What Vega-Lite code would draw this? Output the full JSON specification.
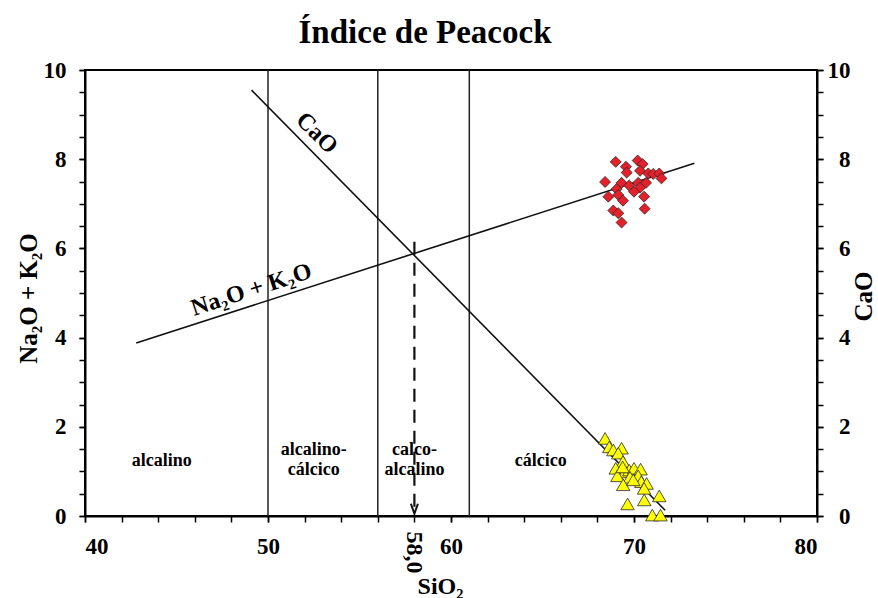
{
  "$schema": "https://vega.github.io/schema/vega-lite/v6.json",
  "width": 732,
  "height": 446,
  "autosize": {"type": "none"},
  "padding": {"left": 85, "top": 70, "right": 61, "bottom": 82},
  "background": "white",
  "title": {"text": "Índice de Peacock", "fontSize": 33, "font": "Liberation Serif", "fontWeight": "bold", "color": "black", "anchor": "middle", "dx": -26, "offset": 9},
  "datasets": {
    "alcalis": [
      {"SiO2": 69.0, "Na2O_K2O": 7.94}, {"SiO2": 70.2, "Na2O_K2O": 7.97}, {"SiO2": 70.47, "Na2O_K2O": 7.89},
      {"SiO2": 69.56, "Na2O_K2O": 7.83}, {"SiO2": 69.6, "Na2O_K2O": 7.7}, {"SiO2": 70.33, "Na2O_K2O": 7.74},
      {"SiO2": 70.78, "Na2O_K2O": 7.68}, {"SiO2": 71.05, "Na2O_K2O": 7.67}, {"SiO2": 71.38, "Na2O_K2O": 7.68},
      {"SiO2": 71.5, "Na2O_K2O": 7.57}, {"SiO2": 68.42, "Na2O_K2O": 7.49}, {"SiO2": 69.32, "Na2O_K2O": 7.47},
      {"SiO2": 69.74, "Na2O_K2O": 7.41}, {"SiO2": 70.23, "Na2O_K2O": 7.47}, {"SiO2": 70.66, "Na2O_K2O": 7.47},
      {"SiO2": 69.05, "Na2O_K2O": 7.33}, {"SiO2": 70.33, "Na2O_K2O": 7.36}, {"SiO2": 70.0, "Na2O_K2O": 7.27},
      {"SiO2": 68.6, "Na2O_K2O": 7.16}, {"SiO2": 69.14, "Na2O_K2O": 7.2}, {"SiO2": 69.4, "Na2O_K2O": 7.07},
      {"SiO2": 70.55, "Na2O_K2O": 7.16}, {"SiO2": 70.58, "Na2O_K2O": 6.89}, {"SiO2": 68.87, "Na2O_K2O": 6.85},
      {"SiO2": 69.14, "Na2O_K2O": 6.79}, {"SiO2": 69.32, "Na2O_K2O": 6.58}
    ],
    "cao": [
      {"SiO2": 68.42, "CaO": 1.74}, {"SiO2": 68.65, "CaO": 1.55}, {"SiO2": 68.87, "CaO": 1.48},
      {"SiO2": 69.32, "CaO": 1.52}, {"SiO2": 69.14, "CaO": 1.41}, {"SiO2": 69.4, "CaO": 1.22},
      {"SiO2": 69.0, "CaO": 1.07}, {"SiO2": 69.5, "CaO": 0.99}, {"SiO2": 69.09, "CaO": 0.9},
      {"SiO2": 69.74, "CaO": 1.03}, {"SiO2": 70.0, "CaO": 1.07}, {"SiO2": 70.36, "CaO": 1.05},
      {"SiO2": 69.78, "CaO": 0.87}, {"SiO2": 70.23, "CaO": 0.9}, {"SiO2": 69.41, "CaO": 0.7},
      {"SiO2": 70.4, "CaO": 0.77}, {"SiO2": 70.69, "CaO": 0.73}, {"SiO2": 70.55, "CaO": 0.62},
      {"SiO2": 70.56, "CaO": 0.36}, {"SiO2": 71.38, "CaO": 0.45}, {"SiO2": 69.65, "CaO": 0.27},
      {"SiO2": 71.0, "CaO": 0.02}, {"SiO2": 71.45, "CaO": 0.02}, {"SiO2": 69.38, "CaO": 1.1},
      {"SiO2": 69.96, "CaO": 0.81}
    ],
    "limites": [{"SiO2": 50}, {"SiO2": 56}, {"SiO2": 61}],
    "rectas": [
      {"serie": "CaO", "x1": 49.1, "y1": 9.55, "x2": 71.7, "y2": 0.13},
      {"serie": "Na2O+K2O", "x1": 42.8, "y1": 3.88, "x2": 73.3, "y2": 7.91}
    ],
    "indice": [{"SiO2": 58.0, "arriba": 6.15, "abajo": 0.15, "etiqueta": "58,0", "ypos": -0.82}],
    "campos": [
      {"SiO2": 44.2, "y": 1.23, "campo": "alcalino"},
      {"SiO2": 52.5, "y": 1.47, "campo": "alcalino-\ncálcico"},
      {"SiO2": 58.0, "y": 1.47, "campo": "calco-\nalcalino"},
      {"SiO2": 64.9, "y": 1.23, "campo": "cálcico"}
    ],
    "etiq_cao": [{"SiO2": 52.66, "y": 8.58, "texto": "CaO"}],
    "etiq_alc": [{"SiO2": 49.1, "y": 5.07, "texto": "Na₂O + K₂O"}]
  },
  "layer": [
    {
      "data": {"name": "limites"},
      "mark": {"type": "rule", "color": "#222", "strokeWidth": 1.5},
      "encoding": {
        "x": {"field": "SiO2", "type": "quantitative", "scale": {"domain": [40, 80], "nice": false, "zero": false},
          "axis": {"orient": "bottom", "values": [40, 50, 60, 70, 80], "title": "SiO₂", "titleFontSize": 24, "titleX": 355, "titleY": 70, "titleBaseline": "middle", "titleAlign": "center", "tickSize": 6, "labelPadding": 13}}
      }
    },
    {
      "data": {"name": "rectas"},
      "mark": {"type": "rule", "color": "#111", "strokeWidth": 1.6},
      "encoding": {
        "x": {"field": "x1", "type": "quantitative",
          "axis": {"orient": "bottom", "values": [40, 42, 44, 46, 48, 50, 52, 54, 56, 58, 60, 62, 64, 66, 68, 70, 72, 74, 76, 78, 80], "labels": false, "domain": false, "title": null, "tickSize": 6}},
        "x2": {"field": "x2"},
        "y": {"field": "y1", "type": "quantitative", "scale": {"domain": [0, 10], "nice": false},
          "axis": {"orient": "left", "values": [0, 2, 4, 6, 8, 10], "title": "Na₂O + K₂O", "titleX": -57, "titleY": 228, "titleAngle": 270, "titleBaseline": "middle", "titleAlign": "center", "tickSize": 6, "labelPadding": 13}},
        "y2": {"field": "y2"}
      }
    },
    {
      "data": {"name": "alcalis"},
      "mark": {"type": "point", "shape": "diamond", "filled": true, "fill": "#e5202a", "stroke": "#2a2a2a", "strokeWidth": 0.8, "size": 120, "opacity": 1},
      "encoding": {
        "x": {"field": "SiO2", "type": "quantitative", "axis": null},
        "y": {"field": "Na2O_K2O", "type": "quantitative",
          "axis": {"orient": "left", "values": [0, 0.5, 1, 1.5, 2, 2.5, 3, 3.5, 4, 4.5, 5, 5.5, 6, 6.5, 7, 7.5, 8, 8.5, 9, 9.5, 10], "labels": false, "domain": false, "title": null, "tickSize": 6}}
      }
    },
    {
      "data": {"name": "cao"},
      "mark": {"type": "point", "shape": "triangle-up", "filled": true, "fill": "#ffff00", "stroke": "#2a2a2a", "strokeWidth": 0.8, "size": 180, "opacity": 1, "clip": false},
      "encoding": {
        "x": {"field": "SiO2", "type": "quantitative", "axis": null},
        "y": {"field": "CaO", "type": "quantitative",
          "axis": {"orient": "right", "values": [0, 2, 4, 6, 8, 10], "title": "CaO", "titleX": 46, "titleY": 226, "titleAngle": 270, "titleBaseline": "middle", "titleAlign": "center", "tickSize": 6, "labelPadding": 27, "labelAlign": "right"}}
      }
    },
    {
      "data": {"name": "indice"},
      "mark": {"type": "rule", "color": "#111", "strokeWidth": 2.2, "strokeDash": [13, 8]},
      "encoding": {
        "x": {"field": "SiO2", "type": "quantitative", "axis": null},
        "y": {"field": "arriba", "type": "quantitative",
          "axis": {"orient": "right", "values": [0, 0.5, 1, 1.5, 2, 2.5, 3, 3.5, 4, 4.5, 5, 5.5, 6, 6.5, 7, 7.5, 8, 8.5, 9, 9.5, 10], "labels": false, "domain": false, "title": null, "tickSize": 6}},
        "y2": {"field": "abajo"}
      }
    },
    {
      "data": {"name": "indice"},
      "mark": {"type": "point", "shape": "M-0.7,-2L0,0L0.7,-2", "filled": false, "stroke": "#111", "strokeWidth": 2, "size": 100, "opacity": 1},
      "encoding": {
        "x": {"field": "SiO2", "type": "quantitative", "axis": null},
        "y": {"datum": 0.05, "type": "quantitative", "axis": null}
      }
    },
    {
      "data": {"name": "indice"},
      "mark": {"type": "text", "angle": 90, "font": "Liberation Serif", "fontWeight": "bold", "fontSize": 24, "color": "black", "align": "center", "baseline": "middle"},
      "encoding": {
        "x": {"field": "SiO2", "type": "quantitative", "axis": null},
        "y": {"field": "ypos", "type": "quantitative", "axis": null},
        "text": {"field": "etiqueta"}
      }
    },
    {
      "data": {"name": "campos"},
      "mark": {"type": "text", "font": "Liberation Serif", "fontWeight": "bold", "fontSize": 18, "color": "black", "align": "center", "baseline": "middle", "lineBreak": "\n", "lineHeight": 20},
      "encoding": {
        "x": {"field": "SiO2", "type": "quantitative", "axis": null},
        "y": {"field": "y", "type": "quantitative", "axis": null},
        "text": {"field": "campo"}
      }
    },
    {
      "data": {"name": "etiq_cao"},
      "mark": {"type": "text", "angle": 45, "font": "Liberation Serif", "fontWeight": "bold", "fontSize": 24, "color": "black", "align": "center", "baseline": "middle"},
      "encoding": {
        "x": {"field": "SiO2", "type": "quantitative", "axis": null},
        "y": {"field": "y", "type": "quantitative", "axis": null},
        "text": {"field": "texto"}
      }
    },
    {
      "data": {"name": "etiq_alc"},
      "mark": {"type": "text", "angle": 342, "font": "Liberation Serif", "fontWeight": "bold", "fontSize": 24, "color": "black", "align": "center", "baseline": "middle"},
      "encoding": {
        "x": {"field": "SiO2", "type": "quantitative", "axis": null},
        "y": {"field": "y", "type": "quantitative", "axis": null},
        "text": {"field": "texto"}
      }
    }
  ],
  "resolve": {"axis": {"x": "independent", "y": "independent"}},
  "config": {
    "view": {"stroke": "black", "strokeWidth": 2},
    "axis": {
      "grid": false,
      "domainColor": "black",
      "domainWidth": 2,
      "tickColor": "black",
      "tickWidth": 1.5,
      "labelFont": "Liberation Serif",
      "labelFontWeight": "bold",
      "labelFontSize": 23,
      "labelColor": "black",
      "titleFont": "Liberation Serif",
      "titleFontWeight": "bold",
      "titleFontSize": 25,
      "titleColor": "black"
    }
  }
}
